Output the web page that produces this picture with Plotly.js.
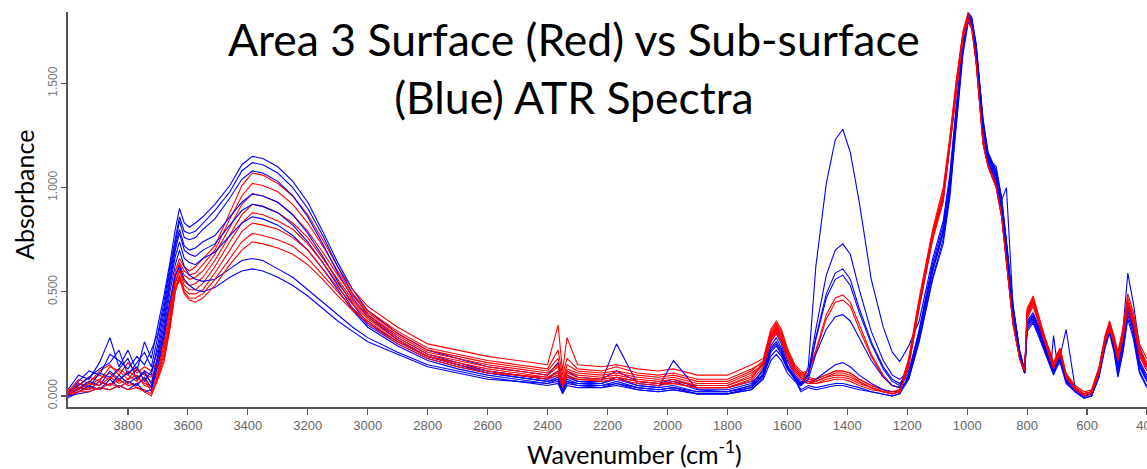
<!DOCTYPE html>
<html>
<head>
<meta charset="utf-8">
<script src="https://cdn.plot.ly/plotly-3.0.1.min.js"></script>
<style>html,body{margin:0;padding:0;background:#fff;}#chart{width:1147px;height:469px;}</style>
</head>
<body>
<div id="chart"></div>
<script>
// Wavenumber grid (cm-1), shared by all spectra
const wavenumbers = [
  4000, 3965, 3930, 3895, 3860, 3830, 3800, 3770, 3745, 3722,
  3700, 3680, 3660, 3642, 3628, 3612, 3595, 3575, 3550,
  3510, 3460, 3420, 3385, 3350, 3300, 3250, 3200, 3150, 3100, 3050, 3000,
  2900, 2800, 2700, 2600, 2500, 2400, 2365, 2350, 2335, 2300, 2220, 2170, 2100, 2030, 1980, 1900, 1800, 1720,
  1680, 1655, 1637, 1620, 1600, 1575, 1555, 1530, 1505, 1470, 1440, 1415, 1390, 1360, 1320, 1280, 1250, 1225,
  1195, 1160, 1115, 1080, 1058, 1036, 1014, 997, 985, 970, 947, 930, 903, 885, 869, 847, 825, 808,
  800, 780, 760, 740, 720, 712, 700, 690, 670, 640, 610, 585, 560, 540, 525, 510, 497, 480, 464, 445, 425, 401
];

// Sub-surface spectra (blue)
const blue1 = [
  0.03, 0.10, 0.08, 0.16, 0.28, 0.14, 0.22, 0.12, 0.26, 0.18,
  0.34, 0.48, 0.64, 0.80, 0.90, 0.83, 0.81, 0.83, 0.86,
  0.92, 1.01, 1.11, 1.15, 1.14, 1.10, 1.03, 0.93, 0.79, 0.64, 0.51, 0.41,
  0.30, 0.22, 0.18, 0.14, 0.12, 0.10, 0.16, 0.06, 0.12, 0.09, 0.08, 0.12, 0.07, 0.06, 0.08, 0.04, 0.04, 0.07,
  0.10, 0.19, 0.22, 0.19, 0.13, 0.09, 0.05, 0.14, 0.62, 1.02, 1.23, 1.28, 1.17, 0.93, 0.56, 0.33, 0.21, 0.165,
  0.24, 0.36, 0.66, 0.84, 1.06, 1.40, 1.70, 1.84, 1.82, 1.69, 1.33, 1.17, 1.08, 0.95, 0.75, 0.44, 0.22, 0.12,
  0.36, 0.40, 0.33, 0.24, 0.16, 0.13, 0.17, 0.20, 0.09, 0.03, 0.00, 0.01, 0.12, 0.28, 0.35, 0.26, 0.16, 0.32, 0.59, 0.44, 0.24, 0.14
];
const blue2 = [
  0.01, 0.07, 0.12, 0.10, 0.20, 0.17, 0.13, 0.19, 0.15, 0.22,
  0.30, 0.45, 0.62, 0.76, 0.86, 0.79, 0.78, 0.79, 0.83,
  0.89, 0.98, 1.08, 1.12, 1.11, 1.07, 1.00, 0.90, 0.77, 0.62, 0.49, 0.39,
  0.28, 0.20, 0.16, 0.12, 0.10, 0.08, 0.12, 0.05, 0.10, 0.07, 0.07, 0.25, 0.06, 0.05, 0.07, 0.03, 0.03, 0.06,
  0.12, 0.26, 0.30, 0.25, 0.15, 0.09, 0.03, 0.05, 0.04, 0.05, 0.06, 0.06, 0.05, 0.04, 0.02, 0.01, 0.00, 0.01,
  0.10, 0.32, 0.64, 0.82, 1.04, 1.38, 1.69, 1.83, 1.81, 1.68, 1.32, 1.16, 1.07, 0.94, 1.00, 0.43, 0.21, 0.12,
  0.34, 0.38, 0.31, 0.23, 0.15, 0.29, 0.16, 0.19, 0.08, 0.03, 0.00, 0.01, 0.11, 0.26, 0.33, 0.24, 0.13, 0.25, 0.42, 0.32, 0.15, 0.08
];
const blue3 = [
  0.02, 0.05, 0.09, 0.13, 0.16, 0.22, 0.10, 0.16, 0.21, 0.14,
  0.28, 0.42, 0.60, 0.74, 0.84, 0.76, 0.75, 0.76, 0.80,
  0.85, 0.95, 1.04, 1.08, 1.07, 1.03, 0.96, 0.86, 0.73, 0.59, 0.47, 0.38,
  0.27, 0.19, 0.15, 0.12, 0.10, 0.08, 0.10, 0.04, 0.09, 0.07, 0.06, 0.09, 0.05, 0.04, 0.17, 0.03, 0.02, 0.05,
  0.10, 0.22, 0.25, 0.21, 0.14, 0.09, 0.06, 0.11, 0.32, 0.58, 0.70, 0.73, 0.68, 0.51, 0.31, 0.17, 0.10, 0.08,
  0.12, 0.31, 0.62, 0.80, 1.02, 1.36, 1.68, 1.82, 1.81, 1.68, 1.31, 1.15, 1.06, 0.93, 0.73, 0.42, 0.21, 0.12,
  0.35, 0.39, 0.32, 0.24, 0.16, 0.12, 0.17, 0.19, 0.32, 0.04, 0.01, 0.02, 0.12, 0.27, 0.34, 0.25, 0.14, 0.27, 0.44, 0.34, 0.17, 0.10
];
const blue4 = [
  0.00, 0.06, 0.04, 0.11, 0.09, 0.13, 0.18, 0.08, 0.12, 0.10,
  0.25, 0.40, 0.57, 0.72, 0.80, 0.72, 0.70, 0.71, 0.74,
  0.77, 0.86, 0.93, 0.97, 0.96, 0.93, 0.87, 0.78, 0.67, 0.55, 0.44, 0.35,
  0.26, 0.19, 0.15, 0.11, 0.09, 0.07, 0.09, 0.03, 0.08, 0.06, 0.06, 0.08, 0.05, 0.04, 0.05, 0.02, 0.02, 0.05,
  0.13, 0.28, 0.32, 0.27, 0.17, 0.10, 0.07, 0.06, 0.08, 0.12, 0.15, 0.16, 0.14, 0.10, 0.06, 0.03, 0.02, 0.02,
  0.09, 0.29, 0.60, 0.78, 1.00, 1.34, 1.67, 1.81, 1.80, 1.67, 1.30, 1.14, 1.05, 0.92, 0.72, 0.41, 0.20, 0.11,
  0.33, 0.37, 0.30, 0.22, 0.14, 0.11, 0.15, 0.18, 0.07, 0.02, -0.01, 0.00, 0.10, 0.25, 0.32, 0.23, 0.12, 0.24, 0.41, 0.31, 0.14, 0.07
];
const blue5 = [
  0.01, 0.03, 0.07, 0.05, 0.12, 0.08, 0.11, 0.14, 0.07, 0.12,
  0.22, 0.37, 0.55, 0.70, 0.78, 0.70, 0.68, 0.67, 0.70,
  0.73, 0.82, 0.89, 0.92, 0.91, 0.88, 0.82, 0.74, 0.64, 0.53, 0.42, 0.34,
  0.25, 0.18, 0.14, 0.11, 0.09, 0.07, 0.08, 0.03, 0.07, 0.06, 0.05, 0.07, 0.04, 0.03, 0.04, 0.02, 0.02, 0.04,
  0.10, 0.23, 0.26, 0.22, 0.14, 0.09, 0.06, 0.10, 0.28, 0.49, 0.59, 0.61, 0.56, 0.42, 0.26, 0.14, 0.08, 0.06,
  0.11, 0.30, 0.61, 0.79, 1.01, 1.35, 1.68, 1.82, 1.81, 1.68, 1.31, 1.15, 1.06, 0.93, 0.73, 0.42, 0.21, 0.12,
  0.34, 0.38, 0.31, 0.23, 0.15, 0.12, 0.16, 0.19, 0.08, 0.03, 0.00, 0.01, 0.11, 0.26, 0.33, 0.24, 0.13, 0.25, 0.42, 0.32, 0.15, 0.08
];
const blue6 = [
  0.00, 0.04, 0.03, 0.07, 0.05, 0.10, 0.06, 0.09, 0.11, 0.06,
  0.20, 0.34, 0.53, 0.67, 0.74, 0.66, 0.64, 0.63, 0.66,
  0.69, 0.77, 0.83, 0.86, 0.85, 0.82, 0.77, 0.70, 0.61, 0.51, 0.41, 0.33,
  0.24, 0.17, 0.13, 0.10, 0.08, 0.06, 0.08, 0.02, 0.07, 0.05, 0.05, 0.06, 0.04, 0.03, 0.04, 0.01, 0.01, 0.04,
  0.11, 0.24, 0.28, 0.23, 0.14, 0.08, 0.02, 0.04, 0.03, 0.04, 0.05, 0.05, 0.04, 0.03, 0.02, 0.01, 0.00, 0.01,
  0.08, 0.27, 0.57, 0.75, 0.97, 1.32, 1.66, 1.80, 1.79, 1.66, 1.29, 1.13, 1.04, 0.91, 0.71, 0.40, 0.20, 0.11,
  0.32, 0.36, 0.29, 0.21, 0.14, 0.11, 0.15, 0.17, 0.07, 0.02, 0.00, 0.00, 0.09, 0.24, 0.31, 0.22, 0.10, 0.22, 0.39, 0.29, 0.12, 0.05
];
const blue7 = [
  -0.01, 0.02, 0.05, 0.03, 0.08, 0.04, 0.07, 0.05, 0.09, 0.04,
  0.18, 0.31, 0.50, 0.63, 0.70, 0.62, 0.58, 0.56, 0.55,
  0.56, 0.61, 0.65, 0.66, 0.65, 0.61, 0.57, 0.51, 0.45, 0.39, 0.33, 0.28,
  0.21, 0.15, 0.12, 0.09, 0.07, 0.06, 0.07, 0.02, 0.06, 0.05, 0.04, 0.06, 0.03, 0.02, 0.03, 0.01, 0.01, 0.03,
  0.09, 0.21, 0.24, 0.20, 0.13, 0.08, 0.05, 0.10, 0.27, 0.47, 0.56, 0.58, 0.53, 0.40, 0.25, 0.13, 0.07, 0.05,
  0.10, 0.29, 0.60, 0.78, 1.00, 1.34, 1.67, 1.81, 1.80, 1.67, 1.30, 1.14, 1.10, 0.95, 0.74, 0.43, 0.22, 0.12,
  0.35, 0.39, 0.32, 0.23, 0.15, 0.12, 0.16, 0.19, 0.08, 0.03, 0.00, 0.01, 0.11, 0.26, 0.33, 0.24, 0.13, 0.26, 0.43, 0.33, 0.16, 0.09
];
const blue8 = [
  0.00, 0.01, 0.02, 0.04, 0.03, 0.05, 0.03, 0.06, 0.02, 0.03,
  0.15, 0.28, 0.46, 0.58, 0.62, 0.56, 0.53, 0.51, 0.50,
  0.52, 0.57, 0.60, 0.61, 0.60, 0.57, 0.53, 0.48, 0.42, 0.36, 0.31, 0.26,
  0.20, 0.14, 0.11, 0.08, 0.07, 0.05, 0.06, 0.01, 0.05, 0.04, 0.04, 0.05, 0.03, 0.02, 0.03, 0.01, 0.01, 0.03,
  0.08, 0.17, 0.20, 0.17, 0.11, 0.07, 0.05, 0.08, 0.20, 0.32, 0.38, 0.39, 0.36, 0.28, 0.17, 0.09, 0.05, 0.04,
  0.08, 0.26, 0.56, 0.73, 0.95, 1.30, 1.64, 1.79, 1.78, 1.65, 1.28, 1.12, 1.03, 0.90, 0.70, 0.40, 0.19, 0.11,
  0.31, 0.35, 0.28, 0.20, 0.13, 0.10, 0.14, 0.16, 0.06, 0.02, -0.01, 0.00, 0.09, 0.23, 0.30, 0.21, 0.09, 0.21, 0.37, 0.27, 0.11, 0.04
];

// Surface spectra (red)
const red1 = [
  0.02, 0.08, 0.06, 0.12, 0.15, 0.10, 0.16, 0.11, 0.14, 0.12,
  0.17, 0.30, 0.44, 0.60, 0.66, 0.62, 0.60, 0.62, 0.66,
  0.72, 0.88, 1.01, 1.07, 1.06, 1.02, 0.96, 0.87, 0.75, 0.62, 0.51, 0.43,
  0.33, 0.25, 0.22, 0.19, 0.17, 0.15, 0.34, 0.12, 0.28, 0.15, 0.14, 0.15, 0.13, 0.12, 0.13, 0.10, 0.10, 0.15,
  0.18, 0.32, 0.36, 0.32, 0.23, 0.15, 0.12, 0.09, 0.08, 0.10, 0.12, 0.12, 0.11, 0.08, 0.05, 0.03, 0.02, 0.03,
  0.18, 0.47, 0.80, 1.00, 1.24, 1.52, 1.75, 1.84, 1.80, 1.63, 1.24, 1.13, 1.03, 0.89, 0.67, 0.37, 0.19, 0.12,
  0.42, 0.48, 0.38, 0.28, 0.20, 0.16, 0.20, 0.23, 0.11, 0.05, 0.02, 0.03, 0.14, 0.29, 0.36, 0.29, 0.21, 0.33, 0.49, 0.40, 0.25, 0.18
];
const red2 = [
  0.01, 0.05, 0.09, 0.07, 0.14, 0.12, 0.08, 0.13, 0.10, 0.09,
  0.15, 0.28, 0.42, 0.58, 0.64, 0.60, 0.58, 0.59, 0.63,
  0.70, 0.85, 0.96, 1.02, 1.01, 0.98, 0.92, 0.83, 0.72, 0.60, 0.49, 0.41,
  0.31, 0.23, 0.20, 0.17, 0.15, 0.13, 0.22, 0.10, 0.18, 0.13, 0.12, 0.14, 0.11, 0.10, 0.11, 0.08, 0.08, 0.13,
  0.16, 0.29, 0.33, 0.29, 0.21, 0.14, 0.11, 0.12, 0.22, 0.39, 0.47, 0.485, 0.45, 0.34, 0.20, 0.10, 0.05, 0.04,
  0.17, 0.46, 0.79, 0.98, 1.23, 1.51, 1.74, 1.83, 1.79, 1.62, 1.23, 1.12, 1.02, 0.88, 0.66, 0.36, 0.19, 0.12,
  0.40, 0.46, 0.36, 0.27, 0.19, 0.15, 0.19, 0.22, 0.10, 0.04, 0.01, 0.02, 0.13, 0.27, 0.34, 0.27, 0.19, 0.30, 0.45, 0.37, 0.22, 0.15
];
const red3 = [
  0.03, 0.04, 0.07, 0.10, 0.08, 0.13, 0.10, 0.07, 0.12, 0.06,
  0.14, 0.26, 0.40, 0.57, 0.63, 0.58, 0.56, 0.57, 0.60,
  0.68, 0.81, 0.92, 0.97, 0.96, 0.93, 0.87, 0.79, 0.69, 0.58, 0.48, 0.40,
  0.30, 0.22, 0.19, 0.16, 0.14, 0.12, 0.18, 0.08, 0.15, 0.12, 0.11, 0.12, 0.10, 0.09, 0.10, 0.07, 0.07, 0.12,
  0.17, 0.31, 0.35, 0.31, 0.22, 0.14, 0.11, 0.08, 0.08, 0.10, 0.12, 0.12, 0.11, 0.08, 0.05, 0.03, 0.02, 0.03,
  0.16, 0.44, 0.77, 0.96, 1.21, 1.49, 1.73, 1.82, 1.78, 1.61, 1.22, 1.11, 1.01, 0.87, 0.65, 0.35, 0.18, 0.11,
  0.41, 0.47, 0.37, 0.27, 0.19, 0.15, 0.20, 0.22, 0.10, 0.04, 0.01, 0.02, 0.13, 0.28, 0.35, 0.28, 0.20, 0.31, 0.47, 0.38, 0.23, 0.16
];
const red4 = [
  0.00, 0.06, 0.05, 0.08, 0.11, 0.07, 0.12, 0.09, 0.06, 0.05,
  0.12, 0.24, 0.38, 0.55, 0.61, 0.55, 0.53, 0.54, 0.57,
  0.65, 0.77, 0.87, 0.92, 0.91, 0.88, 0.83, 0.76, 0.66, 0.56, 0.46, 0.39,
  0.29, 0.21, 0.18, 0.15, 0.13, 0.11, 0.15, 0.07, 0.13, 0.11, 0.10, 0.11, 0.09, 0.08, 0.09, 0.06, 0.06, 0.11,
  0.15, 0.28, 0.32, 0.28, 0.20, 0.13, 0.10, 0.11, 0.21, 0.37, 0.45, 0.46, 0.43, 0.32, 0.19, 0.09, 0.05, 0.04,
  0.17, 0.45, 0.78, 0.97, 1.22, 1.50, 1.74, 1.83, 1.79, 1.62, 1.23, 1.12, 1.02, 0.88, 0.66, 0.36, 0.19, 0.12,
  0.39, 0.45, 0.35, 0.26, 0.18, 0.14, 0.18, 0.21, 0.09, 0.04, 0.01, 0.02, 0.12, 0.27, 0.33, 0.26, 0.18, 0.29, 0.44, 0.36, 0.21, 0.14
];
const red5 = [
  0.02, 0.03, 0.06, 0.05, 0.09, 0.06, 0.08, 0.10, 0.05, 0.04,
  0.11, 0.22, 0.36, 0.54, 0.60, 0.53, 0.51, 0.51, 0.54,
  0.62, 0.74, 0.83, 0.88, 0.87, 0.84, 0.80, 0.73, 0.64, 0.54, 0.45, 0.38,
  0.28, 0.20, 0.17, 0.14, 0.12, 0.10, 0.14, 0.06, 0.12, 0.10, 0.09, 0.10, 0.08, 0.07, 0.08, 0.05, 0.05, 0.10,
  0.16, 0.30, 0.34, 0.30, 0.21, 0.13, 0.10, 0.08, 0.07, 0.09, 0.10, 0.10, 0.09, 0.07, 0.04, 0.02, 0.02, 0.02,
  0.15, 0.43, 0.76, 0.94, 1.20, 1.48, 1.73, 1.82, 1.78, 1.61, 1.22, 1.11, 1.01, 0.87, 0.65, 0.35, 0.18, 0.11,
  0.40, 0.46, 0.36, 0.27, 0.19, 0.15, 0.19, 0.22, 0.10, 0.04, 0.01, 0.02, 0.13, 0.27, 0.34, 0.27, 0.19, 0.30, 0.45, 0.37, 0.22, 0.15
];
const red6 = [
  0.01, 0.04, 0.03, 0.07, 0.05, 0.08, 0.05, 0.06, 0.08, 0.02,
  0.10, 0.20, 0.35, 0.52, 0.58, 0.51, 0.49, 0.49, 0.51,
  0.59, 0.70, 0.79, 0.83, 0.82, 0.80, 0.76, 0.70, 0.61, 0.52, 0.44, 0.37,
  0.27, 0.19, 0.16, 0.13, 0.11, 0.09, 0.12, 0.05, 0.11, 0.09, 0.08, 0.09, 0.07, 0.06, 0.07, 0.05, 0.05, 0.09,
  0.15, 0.27, 0.31, 0.27, 0.19, 0.12, 0.09, 0.07, 0.07, 0.09, 0.11, 0.11, 0.10, 0.07, 0.04, 0.02, 0.01, 0.02,
  0.16, 0.44, 0.77, 0.95, 1.21, 1.49, 1.73, 1.81, 1.77, 1.60, 1.21, 1.10, 1.00, 0.86, 0.64, 0.35, 0.18, 0.11,
  0.38, 0.44, 0.35, 0.26, 0.18, 0.14, 0.18, 0.21, 0.09, 0.03, 0.00, 0.01, 0.12, 0.26, 0.33, 0.26, 0.17, 0.28, 0.43, 0.35, 0.20, 0.13
];
const red7 = [
  0.00, 0.02, 0.04, 0.03, 0.06, 0.04, 0.07, 0.04, 0.03, 0.01,
  0.09, 0.18, 0.33, 0.51, 0.57, 0.50, 0.47, 0.47, 0.49,
  0.56, 0.66, 0.74, 0.78, 0.77, 0.75, 0.72, 0.66, 0.58, 0.50, 0.42, 0.36,
  0.26, 0.19, 0.15, 0.12, 0.10, 0.09, 0.11, 0.05, 0.10, 0.08, 0.08, 0.09, 0.07, 0.06, 0.06, 0.04, 0.04, 0.08,
  0.16, 0.29, 0.33, 0.29, 0.20, 0.12, 0.09, 0.07, 0.06, 0.08, 0.09, 0.09, 0.08, 0.06, 0.04, 0.02, 0.01, 0.02,
  0.14, 0.42, 0.75, 0.93, 1.19, 1.47, 1.72, 1.80, 1.76, 1.60, 1.21, 1.10, 1.00, 0.86, 0.64, 0.34, 0.18, 0.11,
  0.39, 0.45, 0.35, 0.26, 0.18, 0.14, 0.18, 0.21, 0.09, 0.04, 0.01, 0.02, 0.12, 0.27, 0.33, 0.26, 0.18, 0.29, 0.44, 0.36, 0.21, 0.14
];
const red8 = [
  0.01, 0.02, 0.02, 0.04, 0.03, 0.05, 0.03, 0.04, 0.02, 0.00,
  0.08, 0.16, 0.32, 0.50, 0.56, 0.49, 0.46, 0.45, 0.47,
  0.53, 0.63, 0.70, 0.74, 0.73, 0.71, 0.68, 0.63, 0.56, 0.48, 0.41, 0.35,
  0.25, 0.18, 0.14, 0.11, 0.10, 0.08, 0.10, 0.04, 0.09, 0.08, 0.07, 0.08, 0.06, 0.05, 0.06, 0.04, 0.04, 0.07,
  0.14, 0.26, 0.30, 0.26, 0.18, 0.11, 0.08, 0.06, 0.06, 0.07, 0.08, 0.08, 0.07, 0.05, 0.03, 0.02, 0.01, 0.02,
  0.15, 0.43, 0.76, 0.95, 1.20, 1.48, 1.72, 1.81, 1.77, 1.60, 1.21, 1.10, 1.00, 0.86, 0.65, 0.35, 0.18, 0.12,
  0.37, 0.43, 0.34, 0.25, 0.17, 0.13, 0.17, 0.20, 0.09, 0.03, 0.00, 0.01, 0.11, 0.26, 0.32, 0.25, 0.17, 0.28, 0.42, 0.34, 0.19, 0.12
];

const blueSeries = [blue1, blue2, blue3, blue4, blue5, blue6, blue7, blue8];
const redSeries = [red1, red2, red3, red4, red5, red6, red7, red8];

const xTickVals = [3800, 3600, 3400, 3200, 3000, 2800, 2600, 2400, 2200, 2000, 1800, 1600, 1400, 1200, 1000, 800, 600, 400];
const xTickText = ['3800', '3600', '3400', '3200', '3000', '2800', '2600', '2400', '2200', '2000', '1800', '1600', '1400', '1200', '1000', '800', '600', '400'];
const yTickVals = [0, 0.5, 1.0, 1.5];
const yTickText = ['0.000', '0.500', '1.000', '1.500'];

const chartTitle = 'Area 3 Surface (Red) vs Sub-surface<br>(Blue) ATR Spectra';
const xTitle = 'Wavenumber (cm<sup>-1</sup>)';
const yTitle = 'Absorbance';

const traces = [];
for (let i = 0; i < blueSeries.length; i++) {
  traces.push({x: wavenumbers, y: blueSeries[i], type: 'scatter', mode: 'lines',
    line: {color: 'rgb(0,0,255)', width: 1.1}, hoverinfo: 'skip', name: 'Sub-surface ' + (i + 1)});
  traces.push({x: wavenumbers, y: redSeries[i], type: 'scatter', mode: 'lines',
    line: {color: 'rgb(255,0,0)', width: 1.1}, hoverinfo: 'skip', name: 'Surface ' + (i + 1)});
}

const layout = {
  width: 1147, height: 469,
  margin: {l: 68, r: 0, t: 12, b: 62},
  paper_bgcolor: '#fff', plot_bgcolor: '#fff',
  showlegend: false,
  xaxis: {range: [4000, 400], autorange: false, tickvals: xTickVals, ticktext: xTickText,
          ticks: 'outside', ticklen: 6, tickwidth: 1.2, tickcolor: '#555', ticklabeloverflow: 'allow',
          showline: true, linecolor: '#555', linewidth: 1.6, showgrid: false, zeroline: false,
          tickfont: {family: 'Liberation Sans, Arial, sans-serif', size: 13, color: '#666'}},
  yaxis: {range: [-0.053, 1.843], autorange: false, tickvals: yTickVals, ticktext: yTickText,
          ticks: 'outside', ticklen: 5, tickwidth: 1.2, tickcolor: '#555', tickangle: -90,
          showline: true, linecolor: '#555', linewidth: 1.6, showgrid: false, zeroline: false,
          tickfont: {family: 'Liberation Sans, Arial, sans-serif', size: 12, color: '#777'}},
  annotations: [
    {text: chartTitle, xref: 'paper', yref: 'paper', x: 0.469, y: 1.005, xanchor: 'center', yanchor: 'top',
     align: 'center', showarrow: false, font: {family: 'Lato, sans-serif', size: 44.5, color: '#000'}},
    {text: xTitle, xref: 'paper', yref: 'paper', x: 0.5246, y: -0.114, xanchor: 'center', yanchor: 'middle',
     showarrow: false, font: {family: 'Lato, sans-serif', size: 25, color: '#000'}},
    {text: yTitle, xref: 'paper', yref: 'paper', x: -0.0408, y: 0.537, xanchor: 'center', yanchor: 'middle',
     textangle: -90, showarrow: false, font: {family: 'Lato, sans-serif', size: 25, color: '#000'}}
  ]
};

Plotly.newPlot('chart', traces, layout, {staticPlot: true, displayModeBar: false});
</script>
</body>
</html>
